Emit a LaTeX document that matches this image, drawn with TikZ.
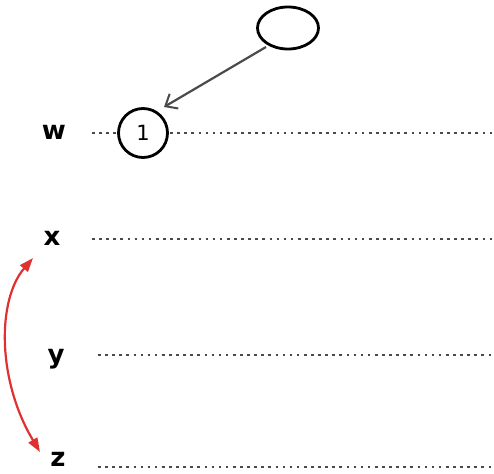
\documentclass[tikz,border=0pt]{standalone}
\usepackage{fontspec}
\setmainfont{DejaVu Sans}
\usetikzlibrary{arrows.meta,shapes.geometric}
\definecolor{exred}{HTML}{E03131}
\definecolor{exgray}{HTML}{4A4A4A}
\tikzset{
  lbl/.style={font=\fontsize{26}{30}\selectfont\bfseries, inner sep=0pt, anchor=center},
  dotline/.style={draw=exgray, line width=2.6pt, dash pattern=on 2.6pt off 4.5pt},
  ring/.style={draw=black, line width=2.8pt, fill=white, circle, minimum size=49pt, inner sep=0pt, font=\fontsize{21}{24}\selectfont},
  oval/.style={draw=black, line width=2.8pt, ellipse, minimum width=61pt, minimum height=42pt, inner sep=0pt},
  link/.style={draw=exgray, line width=2.2pt, -{Straight Barb[length=10pt,width=17pt,line width=2pt]}},
  redlink/.style={draw=exred, line width=2.2pt, {Triangle[length=14pt,width=10pt]}-{Triangle[length=14pt,width=10pt]}}
}
\begin{document}
\begin{tikzpicture}[x=1pt,y=-1pt]
\useasboundingbox (0,0) rectangle (494,473);
% labels
\node[lbl] (w) at (54,132) {w};
\node[lbl] (x) at (52,238) {x};
\node[lbl] (y) at (56,359) {y};
\node[lbl] (z) at (58,459) {z};
% dotted lines
\coordinate (w1) at (92,133); \coordinate (w2) at (492,133);
\coordinate (x1) at (92,239); \coordinate (x2) at (492,239);
\coordinate (y1) at (98,355); \coordinate (y2) at (494,355);
\coordinate (z1) at (98,467); \coordinate (z2) at (494,467);
\draw[dotline] (w1) -- (w2);
\draw[dotline] (x1) -- (x2);
\draw[dotline] (y1) -- (y2);
\draw[dotline] (z1) -- (z2);
% nodes
\node[ring] (one) at (143,133) {1};
\node[oval] (top) at (288,28) {};
% arrow
\coordinate (a1) at (266,47);
\coordinate (a2) at (164,107);
\draw[link] (a1) -- (a2);
% red curved arrow
\coordinate (r1) at (33,258);
\coordinate (r2) at (40,452);
\draw[redlink] (r1) .. controls (-3,300) and (-3,380) .. (r2);
\end{tikzpicture}
\end{document}
